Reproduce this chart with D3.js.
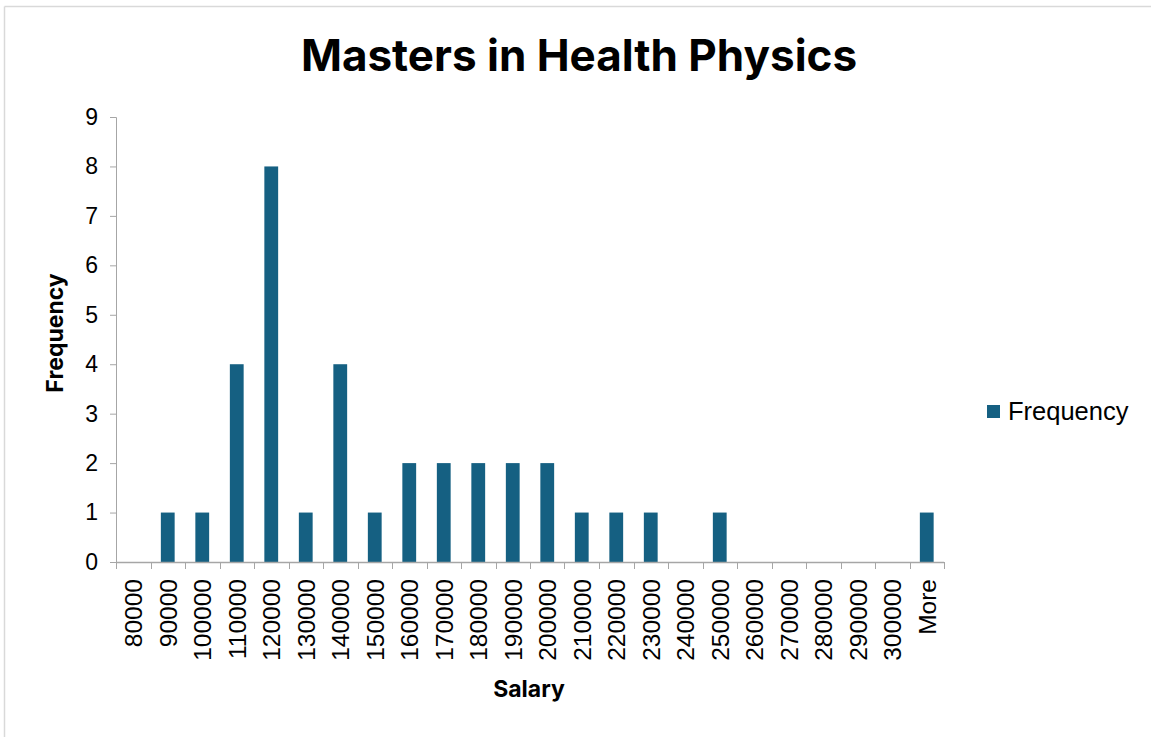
<!DOCTYPE html>
<html>
<head>
<meta charset="utf-8">
<script src="https://cdn.jsdelivr.net/npm/d3@7"></script>
<style>
  body { margin: 0; background: #fff; }
  svg { display: block; }
</style>
</head>
<body>
<div id="chart"></div>
<script>
// histogram bins and counts
const bins = ["80000", "90000", "100000", "110000", "120000", "130000", "140000", "150000",
  "160000", "170000", "180000", "190000", "200000", "210000", "220000", "230000", "240000",
  "250000", "260000", "270000", "280000", "290000", "300000", "More"]
const frequency = [0, 1, 1, 4, 8, 1, 4, 1, 2, 2, 2, 2, 2, 1, 1, 1, 0, 1, 0, 0, 0, 0, 0, 1]
const yTicks = [0, 1, 2, 3, 4, 5, 6, 7, 8, 9]

const W = 1151, H = 737
const margin = { top: 117, right: 207, bottom: 175, left: 116 }
const barColor = "#156082"
const axisColor = "#a6a6a6"

const svg = d3.select("#chart").append("svg")
  .attr("width", W)
  .attr("height", H)

// frame lines (top and left edges of the chart area)
svg.append("line").attr("x1", 4.5).attr("y1", 6.5).attr("x2", W).attr("y2", 6.5)
  .style("stroke", "#d9d9d9").style("stroke-width", "1.5px")
svg.append("line").attr("x1", 4.5).attr("y1", 6.5).attr("x2", 4.5).attr("y2", H)
  .style("stroke", "#d9d9d9").style("stroke-width", "1.5px")

const innerW = 944 - margin.left
const innerH = 562 - margin.top

const g = svg.append("g")
  .attr("transform", "translate(" + margin.left + "," + margin.top + ")")

let x = d3.scaleBand().domain(bins).range([0, innerW]).paddingInner(0.6).paddingOuter(0.3)
let y = d3.scaleLinear().domain([0, 9]).range([innerH, 0])

// bars
g.selectAll(".bar")
  .data(frequency)
  .enter()
  .append("rect")
  .attr("class", "bar")
  .attr("x", (d, i) => x(bins[i]))
  .attr("y", d => y(d))
  .attr("width", x.bandwidth())
  .attr("height", d => innerH - y(d))
  .style("fill", barColor)

// y axis
let yAxis = g.append("g")
  .call(d3.axisLeft(y).tickValues(yTicks).tickSize(6).tickPadding(12))
yAxis.select(".domain").style("stroke", axisColor)
yAxis.selectAll(".tick line").style("stroke", axisColor)
yAxis.selectAll("text")
  .style("font-family", "'Liberation Sans', Arial, sans-serif")
  .style("font-size", "23px")
  .style("fill", "#000")

// x axis: ticks sit between bins, so draw with a band-edge scale
let xEdge = d3.scaleLinear().domain([0, bins.length]).range([0, innerW])
let xAxis = g.append("g")
  .attr("transform", "translate(0," + innerH + ")")
xAxis.append("line")
  .attr("x1", 0).attr("x2", innerW).attr("y1", 0.5).attr("y2", 0.5)
  .style("stroke", axisColor).style("stroke-width", "1.5px")
xAxis.selectAll(".xtick")
  .data(d3.range(bins.length + 1))
  .enter()
  .append("line")
  .attr("x1", d => Math.round(xEdge(d)) + 0.5)
  .attr("x2", d => Math.round(xEdge(d)) + 0.5)
  .attr("y1", 0)
  .attr("y2", 7)
  .style("stroke", axisColor)
xAxis.selectAll(".xlabel")
  .data(bins)
  .enter()
  .append("text")
  .attr("transform", d => "translate(" + (x(d) + x.bandwidth() / 2 + 9) + ",17) rotate(-90)")
  .attr("text-anchor", "end")
  .style("font-family", "'Liberation Sans', Arial, sans-serif")
  .style("font-size", "24.5px")
  .style("fill", "#000")
  .text(d => d)

// title
svg.append("text")
  .attr("x", 579)
  .attr("y", 71)
  .attr("text-anchor", "middle")
  .style("font-family", "Inter, 'Open Sans', sans-serif")
  .style("font-weight", "700")
  .style("font-size", "44px")
  .style("fill", "#000")
  .text("Masters in Health Physics")

// axis titles
svg.append("text")
  .attr("transform", "translate(63,333) rotate(-90)")
  .attr("text-anchor", "middle")
  .style("font-family", "Inter, 'Open Sans', sans-serif")
  .style("font-weight", "700")
  .style("font-size", "23px")
  .style("fill", "#000")
  .text("Frequency")

svg.append("text")
  .attr("x", 529)
  .attr("y", 697)
  .attr("text-anchor", "middle")
  .style("font-family", "Inter, 'Open Sans', sans-serif")
  .style("font-weight", "700")
  .style("font-size", "23px")
  .style("fill", "#000")
  .text("Salary")

// legend
let legend = svg.append("g").attr("transform", "translate(987,405)")
legend.append("rect")
  .attr("width", 13).attr("height", 13)
  .style("fill", barColor)
legend.append("text")
  .attr("x", 21)
  .attr("y", 15)
  .style("font-family", "'Liberation Sans', Arial, sans-serif")
  .style("font-size", "25.5px")
  .style("fill", "#000")
  .text("Frequency")
</script>
</body>
</html>
